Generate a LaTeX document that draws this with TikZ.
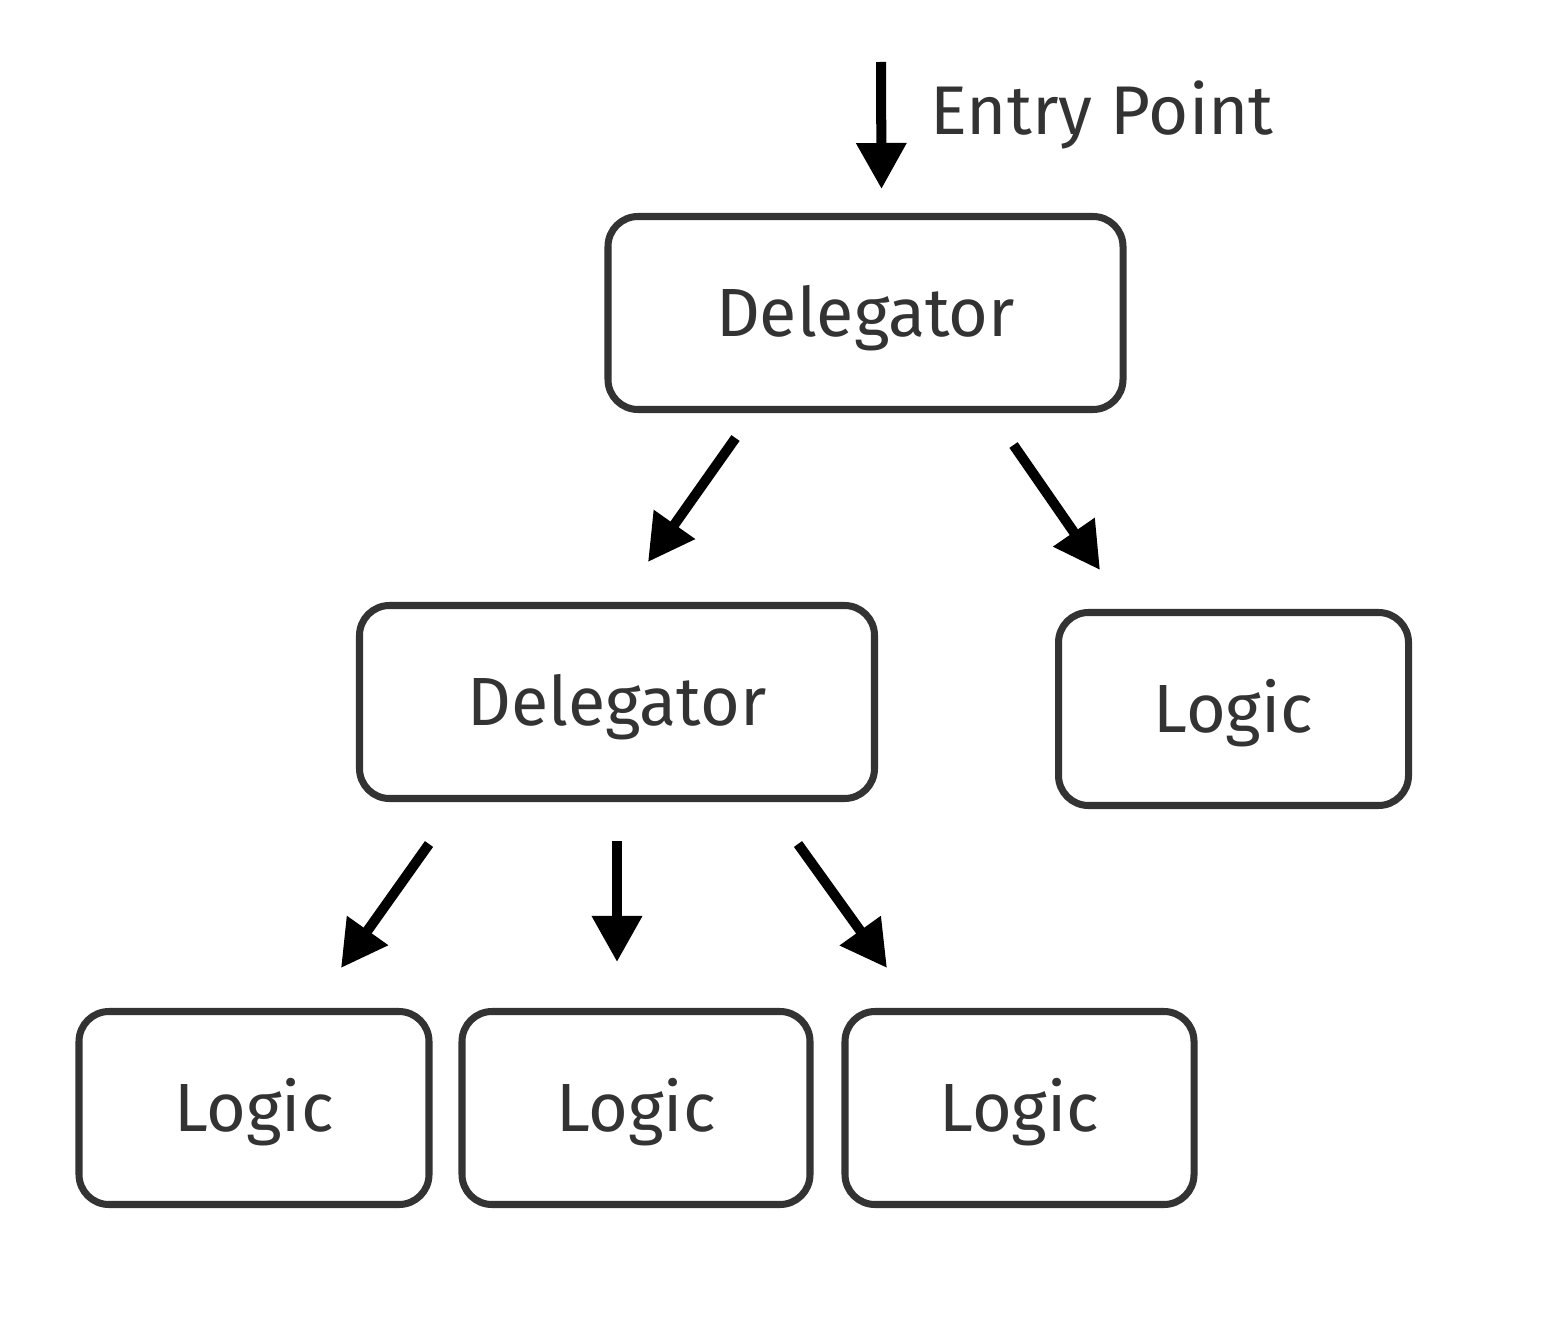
\documentclass[tikz,border=0pt]{standalone}
\usepackage{fontspec}
\setmainfont{Fira Sans}
\usetikzlibrary{arrows.meta}
\definecolor{boxgray}{HTML}{333333}

\begin{document}
\begin{tikzpicture}[
        box/.style={draw=boxgray, line width=2pt, rounded corners=0.3cm,
            minimum height=1.93cm, text=boxgray, text height=0.47cm,
            text depth=0pt, font=\fontsize{19.4}{23}\selectfont},
        arr/.style={line width=2.85pt,
            -{Triangle[width=0.48cm,length=0.46cm]}}
    ]
    \useasboundingbox (0, 0) rectangle (15.62, -13.40);

    % boxes
    \node[box, minimum width=5.15cm] (dtop) at (8.655, -3.13) {Delegator};
    \node[box, minimum width=5.15cm] (dmid) at (6.17, -7.02) {Delegator};
    \node[box, minimum width=3.5cm] (lright) at (12.335, -7.09) {Logic};
    \node[box, minimum width=3.5cm] (lone) at (2.54, -11.08) {Logic};
    \node[box, minimum width=3.48cm] (ltwo) at (6.36, -11.08) {Logic};
    \node[box, minimum width=3.49cm] (lthree) at (10.195, -11.08) {Logic};

    % entry
    \coordinate (entry) at (8.81, -0.62);
    \node[anchor=base west, inner sep=0pt, text=boxgray,
        font=\fontsize{19.6}{23}\selectfont]
        (entrylabel) at (9.30, -1.35) {Entry Point};

    % arrows
    \draw[arr] (entry) -- ([xshift=0.16cm, yshift=0.24cm]dtop.north);
    \draw[arr] ([xshift=-1.3cm, yshift=-0.25cm]dtop.south)
        -- ([xshift=0.31cm, yshift=0.4cm]dmid.north);
    \draw[arr] ([xshift=1.48cm, yshift=-0.32cm]dtop.south)
        -- ([xshift=-1.335cm, yshift=0.39cm]lright.north);
    \draw[arr] ([xshift=-1.88cm, yshift=-0.42cm]dmid.south)
        -- ([xshift=0.87cm, yshift=0.4cm]lone.north);
    \draw[arr] ([xshift=0cm, yshift=-0.39cm]dmid.south)
        -- ([xshift=-0.19cm, yshift=0.46cm]ltwo.north);
    \draw[arr] ([xshift=1.81cm, yshift=-0.42cm]dmid.south)
        -- ([xshift=-1.325cm, yshift=0.4cm]lthree.north);
\end{tikzpicture}
\end{document}
